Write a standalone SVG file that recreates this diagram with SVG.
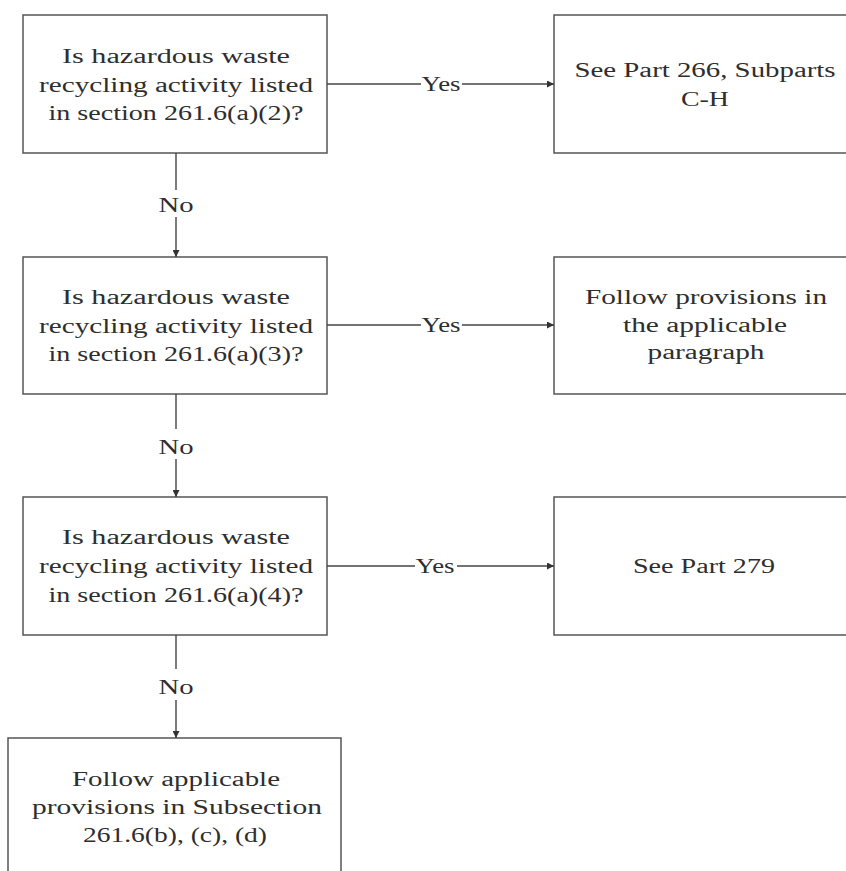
<svg xmlns="http://www.w3.org/2000/svg" width="846" height="871" viewBox="0 0 846 871">
<style>
  .box { fill: #ffffff; stroke: #555555; stroke-width: 1.5; }
  .t { font-family: "Liberation Serif", "Times New Roman", serif; font-size: 20.5px; fill: #2e2e2e; text-anchor: middle; }
  .c { stroke: #444444; stroke-width: 1.4; fill: none; }
</style>
<defs>
  <marker id="arr" viewBox="0 0 10 10" refX="10" refY="5" markerWidth="9" markerHeight="7" markerUnits="userSpaceOnUse" orient="auto">
    <path d="M0,0 L10,5 L0,10 z" fill="#333333"/>
  </marker>
</defs>
<rect width="846" height="871" fill="#ffffff"/>

<g id="q1">
  <rect class="box" x="23" y="15" width="304" height="138"/>
  <text class="t" x="176" y="63" textLength="228" lengthAdjust="spacingAndGlyphs">Is hazardous waste</text>
  <text class="t" x="176" y="91.5" textLength="274" lengthAdjust="spacingAndGlyphs">recycling activity listed</text>
  <text class="t" x="176" y="120" textLength="255" lengthAdjust="spacingAndGlyphs">in section 261.6(a)(2)?</text>
</g>
<g id="r1">
  <rect class="box" x="554" y="15" width="310" height="138"/>
  <text class="t" x="705" y="77" textLength="261" lengthAdjust="spacingAndGlyphs">See Part 266, Subparts</text>
  <text class="t" x="705" y="106" textLength="48" lengthAdjust="spacingAndGlyphs">C-H</text>
</g>
<g id="q2">
  <rect class="box" x="23" y="257" width="304" height="137"/>
  <text class="t" x="176" y="304" textLength="228" lengthAdjust="spacingAndGlyphs">Is hazardous waste</text>
  <text class="t" x="176" y="332.5" textLength="274" lengthAdjust="spacingAndGlyphs">recycling activity listed</text>
  <text class="t" x="176" y="361" textLength="255" lengthAdjust="spacingAndGlyphs">in section 261.6(a)(3)?</text>
</g>
<g id="r2">
  <rect class="box" x="554" y="257" width="310" height="137"/>
  <text class="t" x="706" y="304" textLength="242" lengthAdjust="spacingAndGlyphs">Follow provisions in</text>
  <text class="t" x="705" y="331.5" textLength="164" lengthAdjust="spacingAndGlyphs">the applicable</text>
  <text class="t" x="706" y="359" textLength="117" lengthAdjust="spacingAndGlyphs">paragraph</text>
</g>
<g id="q3">
  <rect class="box" x="23" y="497" width="304" height="138"/>
  <text class="t" x="176" y="544" textLength="228" lengthAdjust="spacingAndGlyphs">Is hazardous waste</text>
  <text class="t" x="176" y="573" textLength="274" lengthAdjust="spacingAndGlyphs">recycling activity listed</text>
  <text class="t" x="176" y="602" textLength="255" lengthAdjust="spacingAndGlyphs">in section 261.6(a)(4)?</text>
</g>
<g id="r3">
  <rect class="box" x="554" y="497" width="310" height="138"/>
  <text class="t" x="704" y="573" textLength="142" lengthAdjust="spacingAndGlyphs">See Part 279</text>
</g>
<g id="end">
  <rect class="box" x="8" y="738" width="333" height="150"/>
  <text class="t" x="176" y="786" textLength="208" lengthAdjust="spacingAndGlyphs">Follow applicable</text>
  <text class="t" x="177" y="814" textLength="290" lengthAdjust="spacingAndGlyphs">provisions in Subsection</text>
  <text class="t" x="175" y="842" textLength="184" lengthAdjust="spacingAndGlyphs">261.6(b), (c), (d)</text>
</g>

<g id="connectors">
  <line class="c" x1="327" y1="84" x2="421" y2="84"/>
  <line class="c" x1="462" y1="84" x2="554" y2="84" marker-end="url(#arr)"/>
  <text class="t" x="441" y="91" textLength="39" lengthAdjust="spacingAndGlyphs">Yes</text>

  <line class="c" x1="327" y1="325" x2="421" y2="325"/>
  <line class="c" x1="462" y1="325" x2="554" y2="325" marker-end="url(#arr)"/>
  <text class="t" x="441" y="332" textLength="39" lengthAdjust="spacingAndGlyphs">Yes</text>

  <line class="c" x1="327" y1="566" x2="415" y2="566"/>
  <line class="c" x1="457" y1="566" x2="554" y2="566" marker-end="url(#arr)"/>
  <text class="t" x="435" y="573" textLength="39" lengthAdjust="spacingAndGlyphs">Yes</text>

  <line class="c" x1="176" y1="153" x2="176" y2="190"/>
  <line class="c" x1="176" y1="217" x2="176" y2="257" marker-end="url(#arr)"/>
  <text class="t" x="176" y="212" textLength="35" lengthAdjust="spacingAndGlyphs">No</text>

  <line class="c" x1="176" y1="394" x2="176" y2="429"/>
  <line class="c" x1="176" y1="459" x2="176" y2="497" marker-end="url(#arr)"/>
  <text class="t" x="176" y="454" textLength="35" lengthAdjust="spacingAndGlyphs">No</text>

  <line class="c" x1="176" y1="635" x2="176" y2="669"/>
  <line class="c" x1="176" y1="700" x2="176" y2="738" marker-end="url(#arr)"/>
  <text class="t" x="176" y="694" textLength="35" lengthAdjust="spacingAndGlyphs">No</text>
</g>
</svg>
